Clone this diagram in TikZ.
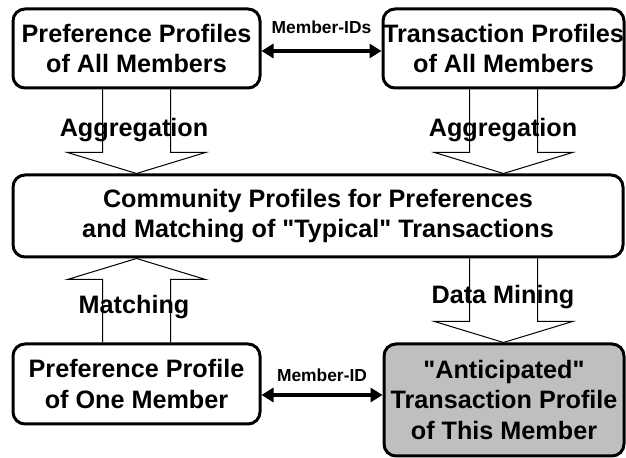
\documentclass[tikz,border=0pt]{standalone}
\usepackage{fontspec}
\setmainfont{Liberation Sans}
\usetikzlibrary{arrows.meta,calc,positioning}

\newcommand{\fatarrow}[2]{%
  \draw[fat] let \p1=(#1), \p2=(#2), \n1={sign(\y2-\y1)} in
    ({\x1-17pt},\y1) -- ({\x1-17pt},{\y2-(\n1)*10.5pt}) -- ({\x1-34.5pt},{\y2-(\n1)*10.5pt}) -- (\x1,\y2)
    -- ({\x1+34.5pt},{\y2-(\n1)*10.5pt}) -- ({\x1+17pt},{\y2-(\n1)*10.5pt}) -- ({\x1+17pt},\y1);}

\begin{document}
\begin{tikzpicture}[x=0.5pt,y=0.5pt]
    \tikzstyle{every node} = [font=\bfseries\fontsize{12.6}{15.2}\selectfont]
    \tikzstyle{profile} = [draw, line width=1.5pt, rectangle, rounded corners=6pt, align=center, inner sep=0pt]
    \tikzstyle{fat} = [line width=0.5pt]
    \tikzstyle{idlink} = [{Triangle[length=6pt,width=7pt]}-{Triangle[length=6pt,width=7pt]}, line width=1.75pt]
    \tikzstyle{idlabel} = [font=\bfseries\fontsize{8.7}{10}\selectfont, inner sep=0pt]
    \useasboundingbox (0,0) rectangle (626,458);

    % place nodes
    \node[profile, minimum width=123.5pt, minimum height=39.5pt] (prefall) at (136.5,409.5) {Preference Profiles\\of All Members};
    \node[profile, minimum width=120.5pt, minimum height=39.5pt] (transall) at (503.5,409.5) {Transaction Profiles\\of All Members};
    \node[profile, minimum width=305pt, minimum height=41pt] (community) at (318,242) {Community Profiles for Preferences\\and Matching of \textquotedbl Typical\textquotedbl{} Transactions};
    \node[profile, minimum width=123.5pt, minimum height=40pt] (prefone) at (136.5,74) {Preference Profile\\of One Member};
    \node[profile, fill=gray!50, minimum width=120pt, minimum height=56pt] (anticip) at (504,58) {\textquotedbl Anticipated\textquotedbl\\Transaction Profile\\of This Member};

    % labels of the block arrows
    \node (aggleft) at (134,328) {Aggregation};
    \node (aggright) at (503,328) {Aggregation};
    \node (match) at (134,151) {Matching};
    \node (mining) at (503,161) {Data Mining};

    % Connections
    \fatarrow{prefall.south}{community.north}
    \fatarrow{transall.south}{community.north}
    \fatarrow{prefone.north}{community.south}
    \fatarrow{transall.south |- community.south}{anticip.north}

    \draw[idlink] ([yshift=-1.25pt]prefall.east) -- node[idlabel, above=8pt](ids){Member-IDs} ([yshift=-1.25pt]transall.west);
    \draw[idlink] ([yshift=-5.5pt]prefone.east) -- node[idlabel, above=6pt](id){Member-ID} ([yshift=-5.5pt]prefone.east -| anticip.west);
\end{tikzpicture}
\end{document}
